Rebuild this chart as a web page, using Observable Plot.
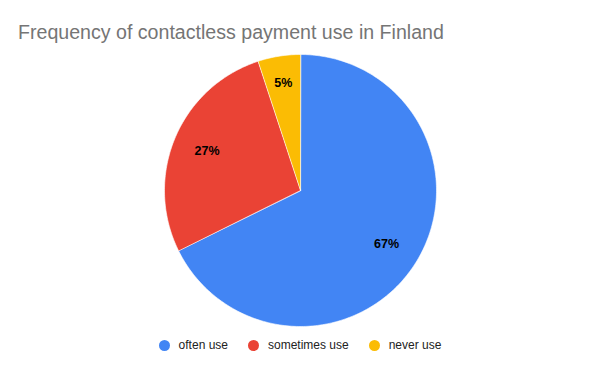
<!DOCTYPE html>
<html>
<head>
<meta charset="utf-8">
<script src="https://cdn.jsdelivr.net/npm/d3@7"></script>
<script src="https://cdn.jsdelivr.net/npm/@observablehq/plot@0.6"></script>
<style>
  html, body { margin: 0; padding: 0; background: #fff; }
  body { width: 600px; height: 371px; overflow: hidden; font-family: Arial, "Liberation Sans", sans-serif; }
  #title { height: 50px; box-sizing: border-box; padding: 20px 0 0 18px; font-size: 19.6px; color: #757575; line-height: 24px; }
  #chart svg { display: block; }
  #legend { display: flex; justify-content: center; align-items: center; height: 28px; margin-top: 0; font-size: 12px; color: #222; }
  .item { display: flex; align-items: center; }
  .dot { width: 11px; height: 11px; border-radius: 50%; margin-right: 9px; }
</style>
</head>
<body>
<div id="title">Frequency of contactless payment use in Finland</div>
<div id="chart"></div>
<div id="legend"></div>
<script>
const categories = ["often use", "sometimes use", "never use"];
const values = [67, 27, 5];
const labels = ["67%", "27%", "5%"];
const colors = ["#4285F4", "#EA4335", "#FBBC04"];

const table = categories.map((c, i) => ({category: c, value: values[i], label: labels[i]}));

// pie angles (clockwise from 12 o'clock)
const total = d3.sum(values);
let acc = 0;
const slices = table.map(d => {
  const a0 = acc / total * 2 * Math.PI;
  acc += d.value;
  const a1 = acc / total * 2 * Math.PI;
  return {...d, a0, a1, am: (a0 + a1) / 2};
});

function arcPolygon(a0, a1) {
  const pts = [[0, 0]];
  const n = Math.max(2, Math.ceil((a1 - a0) / (Math.PI / 180)));
  for (let k = 0; k <= n; k++) {
    const a = a0 + (a1 - a0) * k / n;
    pts.push([Math.sin(a), Math.cos(a)]);
  }
  pts.push([0, 0]);
  return pts;
}

const features = slices.map(s => ({
  type: "Feature",
  properties: {category: s.category},
  geometry: {type: "Polygon", coordinates: [arcPolygon(s.a0, s.a1)]}
}));

const labelData = slices.map(s => {
  const r = (s.a1 - s.a0) < 0.5 ? 0.80 : 0.745;
  return {label: s.label, x: r * Math.sin(s.am), y: r * Math.cos(s.am)};
});

const chart = Plot.plot({
  width: 600,
  height: 281,
  margin: 0,
  marginTop: 4,
  marginBottom: 5,
  projection: {
    type: "reflect-y",
    domain: {type: "Polygon", coordinates: [[[-1, -1], [1, -1], [1, 1], [-1, 1], [-1, -1]]]}
  },
  color: {domain: categories, range: colors},
  marks: [
    Plot.geo(features, {fill: d => d.properties.category, stroke: "#fff", strokeWidth: 0.6}),
    Plot.text(labelData, {x: "x", y: "y", text: "label", fill: "#000", fontSize: 12.5, fontWeight: "bold", fontFamily: "Arial, Liberation Sans, sans-serif"})
  ]
});
document.getElementById("chart").appendChild(chart);

const legend = document.getElementById("legend");
const gaps = [0, 20, 20];
categories.forEach((c, i) => {
  const item = document.createElement("div");
  item.className = "item";
  item.style.marginLeft = gaps[i] + "px";
  const dot = document.createElement("span");
  dot.className = "dot";
  dot.style.background = colors[i];
  const txt = document.createElement("span");
  txt.textContent = c;
  item.appendChild(dot);
  item.appendChild(txt);
  legend.appendChild(item);
});
</script>
</body>
</html>
